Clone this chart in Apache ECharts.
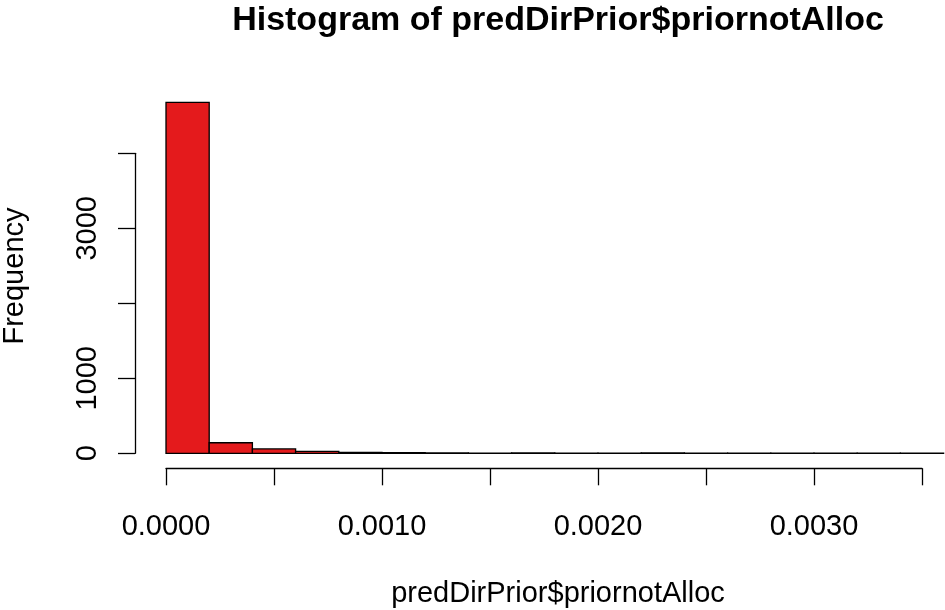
<!DOCTYPE html>
<html><head><meta charset="utf-8">
<script src="https://cdn.jsdelivr.net/npm/echarts@6/dist/echarts.min.js"></script>
<style>html,body{margin:0;padding:0;background:#fff}#c{width:945px;height:610px}</style>
</head><body><div id="c"></div>
<script>
const binWidth = 0.0002;
const binStarts = [0,0.0002,0.0004,0.0006,0.0008,0.0010,0.0012,0.0014,0.0016,0.0018,0.0020,0.0022,0.0024,0.0026,0.0028,0.0030,0.0032,0.0034];
const counts = [4680,141,58,27,13,8,5,2,5,2,1,4,1,1,1,1,1,1];
const xTicks = ['0.0000','0.0010','0.0020','0.0030'];
const yTicks = ['0','1000','3000'];
const titleText = 'Histogram of predDirPrior$priornotAlloc';
const xTitle = 'predDirPrior$priornotAlloc';
const yTitle = 'Frequency';

const FONT = 'Liberation Sans, Arial, Helvetica, sans-serif';
const data = binStarts.map((s,i)=>[s, s+binWidth, counts[i]]);
const chart = echarts.init(document.getElementById('c'), null, {renderer:'canvas'});
const x0 = 166, pxPerUnit = 108/0.0005;
const yBase = 453.3, pxPerCount = 0.075;
chart.setOption({
  animation:false,
  backgroundColor:'#fff',
  title:[
    {text:titleText, left:553, top:-1, textAlign:'center',
     textStyle:{fontFamily:FONT,fontWeight:'bold',fontSize:34,color:'#000'}},
    {text:xTitle, left:553, top:574, textAlign:'center',
     textStyle:{fontFamily:FONT,fontWeight:'normal',fontSize:29,color:'#000'}}
  ],
  graphic:[{type:'text', x:15, y:276, rotation:Math.PI/2,
    style:{text:yTitle, font:'29px '+FONT, fill:'#000', textAlign:'center', textVerticalAlign:'middle'}}],
  grid:[
    {left:x0, width:0.0036*pxPerUnit, top:yBase-4800*pxPerCount, bottom:610-yBase, containLabel:false},
    {left:x0, width:0.0035*pxPerUnit, top:yBase-4000*pxPerCount, bottom:610-yBase, containLabel:false}
  ],
  xAxis:[
    {gridIndex:0, type:'value', min:0, max:0.0036, show:false},
    {gridIndex:1, type:'value', min:0, max:0.0035, interval:0.0005, offset:15,
     axisLine:{show:true,onZero:false,lineStyle:{color:'#000',width:1.3}},
     axisTick:{show:true,length:17,lineStyle:{color:'#000',width:1.3}},
     splitLine:{show:false},
     axisLabel:{margin:44, fontFamily:FONT, fontSize:29, color:'#000',
       formatter:v=>{const s=v.toFixed(4); return xTicks.includes(s)?s:'';}}}
  ],
  yAxis:[
    {gridIndex:0, type:'value', min:0, max:4800, show:false},
    {gridIndex:1, type:'value', min:0, max:4000, interval:1000, offset:31,
     axisLine:{show:true,onZero:false,lineStyle:{color:'#000',width:1.3}},
     axisTick:{show:true,length:17,lineStyle:{color:'#000',width:1.3}},
     splitLine:{show:false},
     axisLabel:{rotate:90, margin:33, fontFamily:FONT, fontSize:29, color:'#000',
       formatter:v=>{const s=String(v); return yTicks.includes(s)?s:'';}}}
  ],
  series:[{
    type:'custom', xAxisIndex:0, yAxisIndex:0, data:data,
    renderItem:(params, api)=>{
      const a = api.coord([api.value(0), api.value(2)]);
      const b = api.coord([api.value(1), 0]);
      return {type:'rect', shape:{x:a[0], y:a[1], width:b[0]-a[0], height:b[1]-a[1]},
        style:{fill:'#E41A1C', stroke:'#000', lineWidth:1.3}};
    }
  }]
});
</script></body></html>
